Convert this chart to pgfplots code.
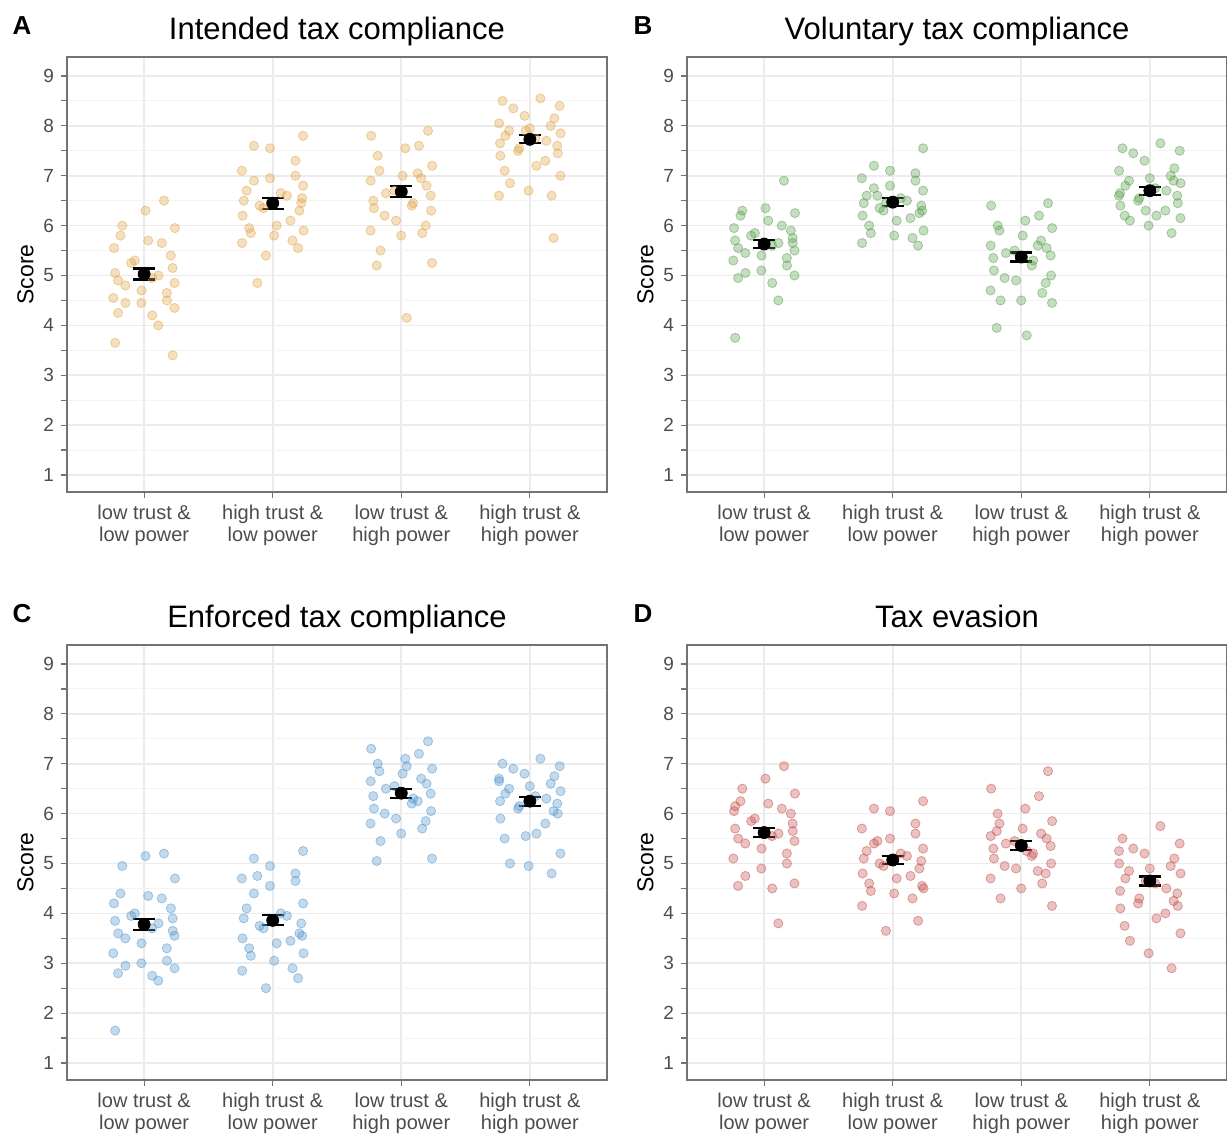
\documentclass[border=0pt]{standalone}
\usepackage{pgfplots}
\pgfplotsset{compat=1.18}
\usepackage{fontspec}
\setmainfont{Liberation Sans}
\definecolor{cA}{HTML}{E0A548}
\definecolor{cB}{HTML}{5A9F4E}
\definecolor{cC}{HTML}{5496CC}
\definecolor{cD}{HTML}{C4504C}
\definecolor{gridc}{HTML}{EBEBEB}
\pgfplotsset{pan/.style={scale only axis, width=270pt, height=217.5pt,
 xmin=0.4, xmax=4.6, ymin=0.66, ymax=9.38,
 xtick={1,2,3,4}, ytick={1,...,9}, minor ytick={1.5,2.5,...,8.5},
 xticklabels={{low trust \&\\low power},{high trust \&\\low power},{low trust \&\\high power},{high trust \&\\high power}},
 xticklabel style={align=center, font=\fontsize{10}{11}\selectfont, text=black!70},
 yticklabel style={font=\fontsize{9.5}{10}\selectfont, text=black!70},
 /pgf/number format/assume math mode=true,
 grid=both, major grid style={gridc, line width=0.8pt}, minor grid style={gridc!60, line width=0.5pt},
 axis line style={black!55, line width=0.6pt},
 tick style={black!55, line width=0.6pt}, major tick length=3pt, tick align=outside,
 xtick pos=bottom, ytick pos=left,
 ylabel={Score}, ylabel style={font=\fontsize{11.5}{12}\selectfont, yshift=-2pt},
 title style={font=\fontsize{15.5}{16}\selectfont, text height=1.6ex, text depth=0.4ex, yshift=-3pt}},
 pts/.style={only marks, mark=*, mark size=2.3pt, mark options={draw=#1, fill=#1, draw opacity=0.5, fill opacity=0.35}},
 mn/.style={only marks, mark=*, mark size=3pt, black, mark options={fill=black},
 error bars/.cd, y dir=both, y explicit, error bar style={line width=1.1pt, black}, error mark options={rotate=90, mark size=5.5pt, line width=1.1pt}}}
\newcommand\grp[3]{\addplot[pts=#1] table[header=false, row sep=\\, x expr={#2+0.24*sin(\coordindex*137.508+#2*40)}, y index=0]{#3};}
\begin{document}
\begin{tikzpicture}
\path[use as bounding box] (0,0) rectangle (613.5pt,-567.5pt);
% A
\begin{axis}[pan, at={(33.5pt,-28.5pt)}, anchor=north west, title={Intended tax compliance}]
\grp{cA}{1}{6.5\\6.3\\6.0\\5.95\\5.8\\5.7\\5.65\\5.55\\5.4\\5.3\\5.25\\5.15\\5.05\\5.0\\4.95\\4.9\\4.85\\4.8\\4.7\\4.65\\4.55\\4.5\\4.45\\4.45\\4.35\\4.25\\4.2\\4.0\\3.65\\3.4\\}
\grp{cA}{2}{7.8\\7.6\\7.55\\7.3\\7.1\\7.0\\6.95\\6.9\\6.8\\6.7\\6.65\\6.6\\6.5\\6.45\\6.4\\6.35\\6.3\\6.2\\6.1\\6.0\\5.95\\5.9\\5.85\\5.8\\5.7\\5.65\\5.55\\5.4\\4.85\\6.55\\}
\grp{cA}{3}{7.9\\7.8\\7.6\\7.55\\7.4\\7.2\\7.1\\7.0\\6.95\\6.9\\6.8\\6.7\\6.65\\6.6\\6.5\\6.45\\6.4\\6.35\\6.3\\6.2\\6.1\\6.0\\5.9\\5.85\\5.8\\5.5\\5.25\\5.2\\4.15\\7.05\\}
\grp{cA}{4}{8.55\\8.5\\8.4\\8.35\\8.2\\8.15\\8.05\\8.0\\7.95\\7.9\\7.85\\7.8\\7.75\\7.7\\7.65\\7.6\\7.55\\7.5\\7.45\\7.4\\7.3\\7.2\\7.1\\7.0\\6.85\\6.7\\6.6\\6.6\\5.75\\7.9\\}
\addplot[mn] coordinates {(1,5.03)+-(0,0.11) (2,6.45)+-(0,0.11) (3,6.68)+-(0,0.11) (4,7.73)+-(0,0.08)};
\end{axis}
% B
\begin{axis}[pan, at={(343.5pt,-28.5pt)}, anchor=north west, title={Voluntary tax compliance}]
\grp{cB}{1}{6.9\\6.35\\6.3\\6.25\\6.2\\6.1\\6.0\\5.95\\5.9\\5.85\\5.8\\5.75\\5.7\\5.65\\5.6\\5.55\\5.5\\5.45\\5.4\\5.35\\5.3\\5.2\\5.1\\5.05\\5.0\\4.95\\4.85\\4.5\\3.75\\5.65\\}
\grp{cB}{2}{7.55\\7.2\\7.1\\7.05\\6.95\\6.9\\6.8\\6.75\\6.7\\6.6\\6.55\\6.5\\6.45\\6.4\\6.35\\6.3\\6.25\\6.2\\6.15\\6.1\\6.0\\5.9\\5.85\\5.8\\5.75\\5.65\\5.6\\6.45\\6.6\\6.3\\}
\grp{cB}{3}{6.45\\6.4\\6.2\\6.1\\6.0\\5.95\\5.9\\5.8\\5.7\\5.6\\5.55\\5.5\\5.45\\5.4\\5.35\\5.3\\5.2\\5.1\\5.0\\4.95\\4.9\\4.85\\4.7\\4.65\\4.5\\4.5\\4.45\\3.95\\3.8\\5.6\\}
\grp{cB}{4}{7.65\\7.55\\7.5\\7.45\\7.3\\7.15\\7.1\\7.0\\6.95\\6.9\\6.85\\6.8\\6.75\\6.7\\6.65\\6.6\\6.55\\6.5\\6.45\\6.4\\6.3\\6.2\\6.2\\6.15\\6.1\\6.0\\5.85\\6.6\\6.9\\6.3\\}
\addplot[mn] coordinates {(1,5.63)+-(0,0.08) (2,6.47)+-(0,0.08) (3,5.37)+-(0,0.09) (4,6.70)+-(0,0.08)};
\end{axis}
% C
\begin{axis}[pan, at={(33.5pt,-322.5pt)}, anchor=north west, title={Enforced tax compliance}]
\grp{cC}{1}{5.2\\5.15\\4.95\\4.7\\4.4\\4.35\\4.3\\4.2\\4.1\\4.0\\3.95\\3.9\\3.85\\3.8\\3.7\\3.6\\3.55\\3.5\\3.4\\3.3\\3.2\\3.05\\3.0\\2.95\\2.9\\2.8\\2.75\\2.65\\1.65\\3.65\\}
\grp{cC}{2}{5.25\\5.1\\4.95\\4.8\\4.7\\4.65\\4.55\\4.4\\4.2\\4.1\\4.0\\3.95\\3.9\\3.8\\3.75\\3.7\\3.6\\3.5\\3.45\\3.4\\3.3\\3.2\\3.15\\3.05\\2.9\\2.85\\2.7\\2.5\\4.75\\3.55\\}
\grp{cC}{3}{7.45\\7.3\\7.2\\7.1\\7.0\\6.9\\6.85\\6.8\\6.7\\6.65\\6.6\\6.55\\6.5\\6.4\\6.35\\6.3\\6.2\\6.1\\6.05\\6.0\\5.9\\5.85\\5.8\\5.7\\5.6\\5.45\\5.1\\5.05\\6.95\\6.25\\}
\grp{cC}{4}{7.1\\7.0\\6.95\\6.9\\6.8\\6.75\\6.7\\6.6\\6.55\\6.5\\6.45\\6.4\\6.35\\6.3\\6.25\\6.2\\6.15\\6.1\\6.0\\5.9\\5.8\\5.6\\5.5\\5.2\\5.0\\4.95\\4.8\\6.65\\6.05\\5.55\\}
\addplot[mn] coordinates {(1,3.78)+-(0,0.11) (2,3.86)+-(0,0.1) (3,6.41)+-(0,0.09) (4,6.25)+-(0,0.09)};
\end{axis}
% D
\begin{axis}[pan, at={(343.5pt,-322.5pt)}, anchor=north west, title={Tax evasion}]
\grp{cD}{1}{6.95\\6.7\\6.5\\6.4\\6.25\\6.2\\6.1\\6.05\\6.0\\5.9\\5.85\\5.8\\5.7\\5.6\\5.55\\5.5\\5.45\\5.4\\5.3\\5.2\\5.1\\5.0\\4.9\\4.75\\4.6\\4.55\\4.5\\3.8\\6.15\\5.65\\}
\grp{cD}{2}{6.25\\6.1\\6.05\\5.8\\5.7\\5.6\\5.5\\5.4\\5.3\\5.25\\5.2\\5.15\\5.1\\5.05\\5.0\\4.95\\4.9\\4.8\\4.75\\4.7\\4.6\\4.5\\4.45\\4.4\\4.3\\4.15\\3.85\\3.65\\5.45\\4.55\\}
\grp{cD}{3}{6.85\\6.5\\6.35\\6.1\\6.0\\5.85\\5.8\\5.7\\5.6\\5.55\\5.5\\5.45\\5.4\\5.35\\5.3\\5.2\\5.15\\5.1\\5.0\\4.95\\4.9\\4.8\\4.7\\4.6\\4.5\\4.3\\4.15\\5.65\\5.25\\4.85\\}
\grp{cD}{4}{5.75\\5.5\\5.4\\5.3\\5.2\\5.1\\5.0\\4.95\\4.9\\4.85\\4.8\\4.7\\4.6\\4.5\\4.45\\4.4\\4.3\\4.2\\4.15\\4.1\\4.0\\3.9\\3.75\\3.6\\3.45\\3.2\\2.9\\5.25\\4.25\\4.65\\}
\addplot[mn] coordinates {(1,5.62)+-(0,0.09) (2,5.07)+-(0,0.08) (3,5.36)+-(0,0.09) (4,4.65)+-(0,0.09)};
\end{axis}
\node[font=\fontsize{13}{14}\selectfont\bfseries, anchor=center] at (11pt,-13pt) {A};
\node[font=\fontsize{13}{14}\selectfont\bfseries, anchor=center] at (321.5pt,-13pt) {B};
\node[font=\fontsize{13}{14}\selectfont\bfseries, anchor=center] at (11pt,-307pt) {C};
\node[font=\fontsize{13}{14}\selectfont\bfseries, anchor=center] at (321.5pt,-307pt) {D};
\end{tikzpicture}
\end{document}
